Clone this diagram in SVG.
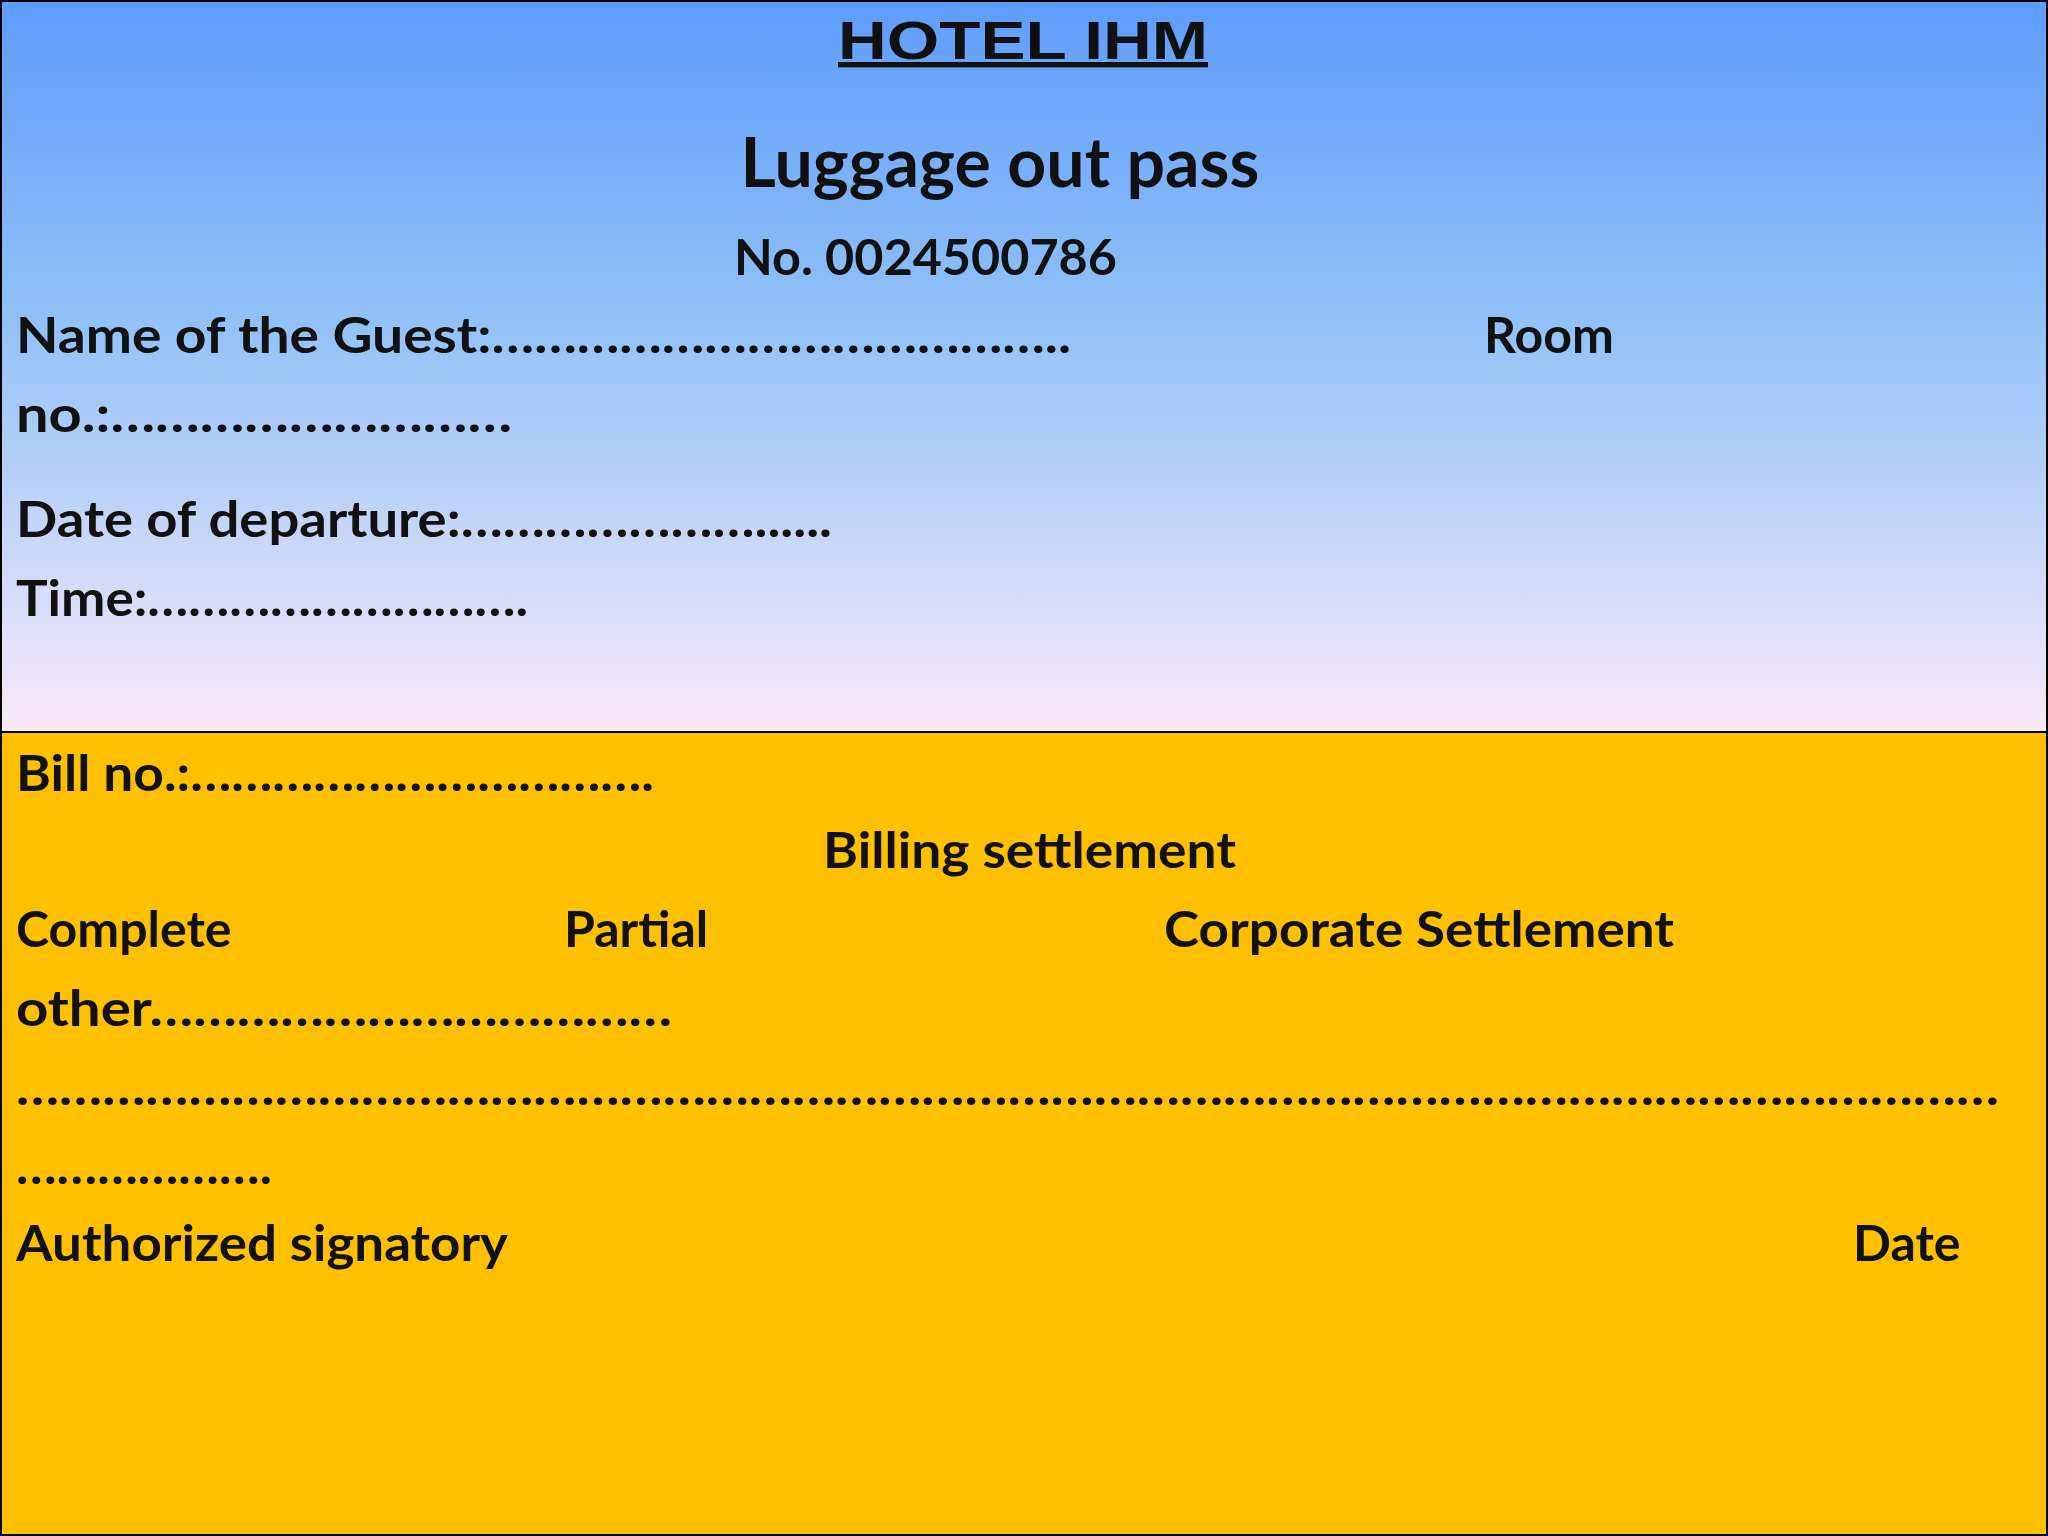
<svg xmlns="http://www.w3.org/2000/svg" width="2048" height="1536" viewBox="0 0 2048 1536">
<defs>
<linearGradient id="sky" x1="0" y1="0" x2="0" y2="1">
<stop offset="0" stop-color="#5f9dfd"/>
<stop offset="0.45" stop-color="#93c2f8"/>
<stop offset="1" stop-color="#f9e9f8"/>
</linearGradient>
<style>
text{font-family:"Lato","Open Sans",sans-serif;font-weight:bold;fill:#111;font-size:50px}
.t{font-family:"Liberation Sans",Arial,sans-serif;font-weight:900;font-size:54px;text-decoration:underline}
</style>
</defs>
<g id="top">
<rect x="1" y="1" width="2046" height="731" fill="url(#sky)" stroke="#000" stroke-width="2"/>
<text class="t" x="1023" y="59" text-anchor="middle" textLength="370" lengthAdjust="spacingAndGlyphs"> HOTEL IHM</text>
<text x="1000" y="187" text-anchor="middle" style="font-size:68px">Luggage out pass</text>
<text x="734" y="275" textLength="383" lengthAdjust="spacingAndGlyphs">No. 0024500786</text>
<text x="16" y="353" textLength="1055" lengthAdjust="spacingAndGlyphs">Name of the Guest:…………………………………..</text>
<text x="1484" y="353">Room</text>
<text x="16" y="432" textLength="496" lengthAdjust="spacingAndGlyphs">no.:………………………</text>
<text x="16" y="537" textLength="816" lengthAdjust="spacingAndGlyphs">Date of departure:…………………......</text>
<text x="16" y="616" textLength="512" lengthAdjust="spacingAndGlyphs">Time:……………………….</text>
</g>
<g id="bottom">
<rect x="1" y="732" width="2046" height="803" fill="#ffc000" stroke="#000" stroke-width="2"/>
<text x="16" y="791" textLength="638" lengthAdjust="spacingAndGlyphs">Bill no.:…………………………….</text>
<text x="823" y="868" textLength="413" lengthAdjust="spacingAndGlyphs">Billing settlement</text>
<text x="16" y="947">Complete</text>
<text x="564" y="947">Partial</text>
<text x="1164" y="947" textLength="510" lengthAdjust="spacingAndGlyphs">Corporate Settlement</text>
<text x="16" y="1026" textLength="656" lengthAdjust="spacingAndGlyphs">other………………………………</text>
<text x="16" y="1105" textLength="1983" lengthAdjust="spacingAndGlyphs">…………………………………………………………………………………………………………………………</text>
<text x="16" y="1184" textLength="256" lengthAdjust="spacingAndGlyphs">……………….</text>
<text x="16" y="1261" textLength="492" lengthAdjust="spacingAndGlyphs">Authorized signatory</text>
<text x="1853" y="1261">Date</text>
</g>
</svg>
